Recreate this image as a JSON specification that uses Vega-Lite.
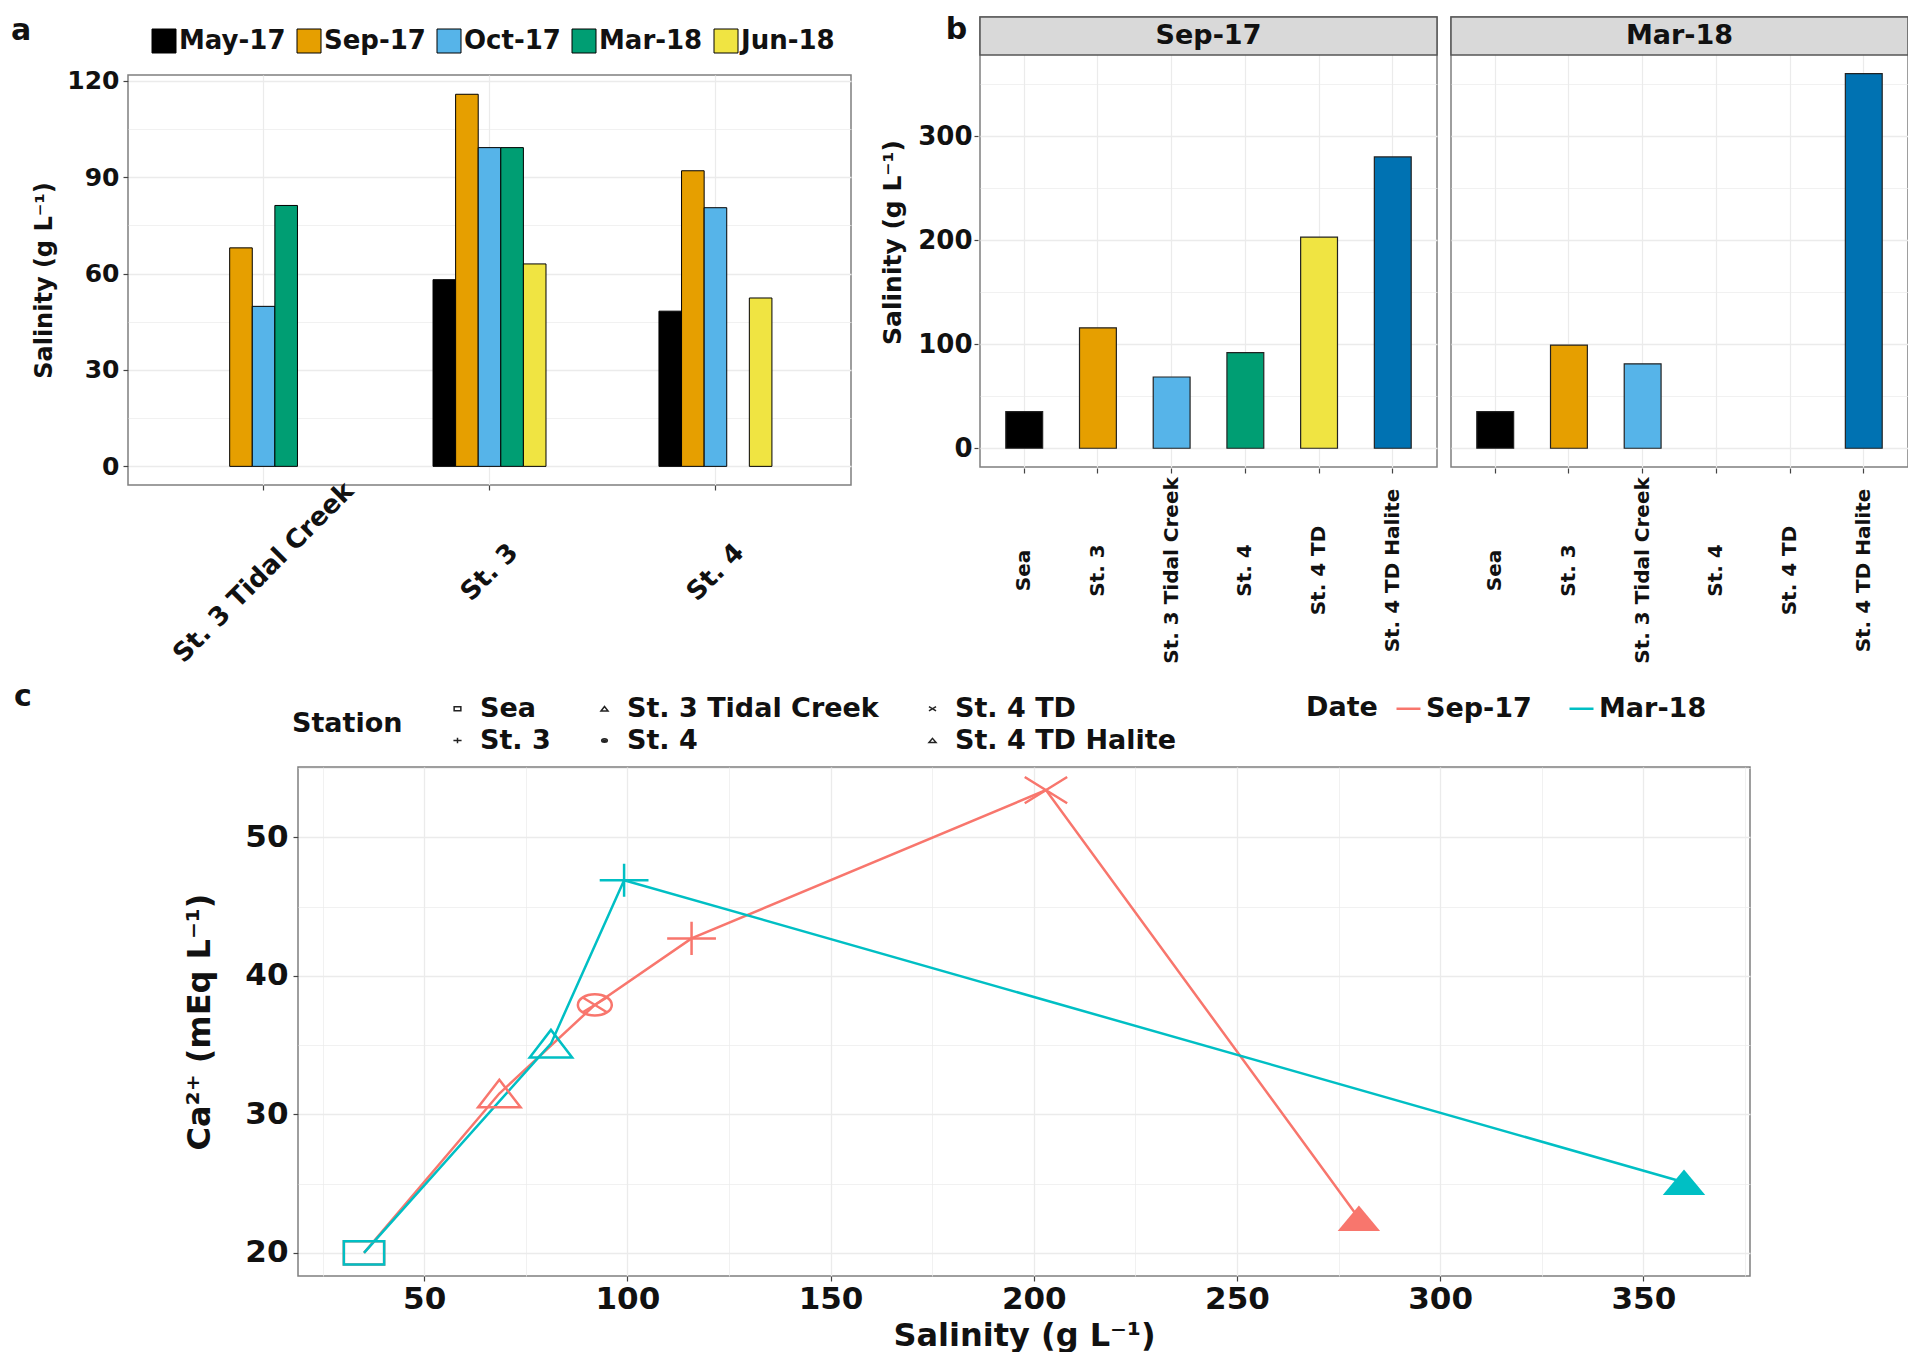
{
  "$schema": "https://vega.github.io/schema/vega-lite/v6.json",
  "background": "white",
  "padding": {"left": 11, "top": 14, "right": 0, "bottom": 0},
  "datasets": {
    "salA": [
      {"Station": "St. 3 Tidal Creek", "Date": "Sep-17", "Salinity": 68},
      {"Station": "St. 3 Tidal Creek", "Date": "Oct-17", "Salinity": 49.8},
      {"Station": "St. 3 Tidal Creek", "Date": "Mar-18", "Salinity": 81.2},
      {"Station": "St. 3", "Date": "May-17", "Salinity": 58.1},
      {"Station": "St. 3", "Date": "Sep-17", "Salinity": 115.8},
      {"Station": "St. 3", "Date": "Oct-17", "Salinity": 99.2},
      {"Station": "St. 3", "Date": "Mar-18", "Salinity": 99.2},
      {"Station": "St. 3", "Date": "Jun-18", "Salinity": 63},
      {"Station": "St. 4", "Date": "May-17", "Salinity": 48.3},
      {"Station": "St. 4", "Date": "Sep-17", "Salinity": 92},
      {"Station": "St. 4", "Date": "Oct-17", "Salinity": 80.5},
      {"Station": "St. 4", "Date": "Jun-18", "Salinity": 52.4}
    ],
    "salB": [
      {"Date": "Sep-17", "Station": "Sea", "Salinity": 35.2},
      {"Date": "Sep-17", "Station": "St. 3", "Salinity": 115.8},
      {"Date": "Sep-17", "Station": "St. 3 Tidal Creek", "Salinity": 68.5},
      {"Date": "Sep-17", "Station": "St. 4", "Salinity": 92},
      {"Date": "Sep-17", "Station": "St. 4 TD", "Salinity": 203},
      {"Date": "Sep-17", "Station": "St. 4 TD Halite", "Salinity": 280},
      {"Date": "Mar-18", "Station": "Sea", "Salinity": 35.2},
      {"Date": "Mar-18", "Station": "St. 3", "Salinity": 99.2},
      {"Date": "Mar-18", "Station": "St. 3 Tidal Creek", "Salinity": 81.2},
      {"Date": "Mar-18", "Station": "St. 4 TD Halite", "Salinity": 360}
    ],
    "caC": [
      {"Date": "Sep-17", "Station": "Sea", "Salinity": 35.2, "Ca": 20.0},
      {"Date": "Sep-17", "Station": "St. 3 Tidal Creek", "Salinity": 68.5, "Ca": 31.5},
      {"Date": "Sep-17", "Station": "St. 4", "Salinity": 92, "Ca": 37.9},
      {"Date": "Sep-17", "Station": "St. 3", "Salinity": 115.8, "Ca": 42.7},
      {"Date": "Sep-17", "Station": "St. 4 TD", "Salinity": 203, "Ca": 53.4},
      {"Date": "Sep-17", "Station": "St. 4 TD Halite", "Salinity": 280, "Ca": 22.5},
      {"Date": "Mar-18", "Station": "Sea", "Salinity": 35.2, "Ca": 20.0},
      {"Date": "Mar-18", "Station": "St. 3 Tidal Creek", "Salinity": 81.2, "Ca": 35.1},
      {"Date": "Mar-18", "Station": "St. 3", "Salinity": 99.2, "Ca": 46.9},
      {"Date": "Mar-18", "Station": "St. 4 TD Halite", "Salinity": 360, "Ca": 25.1}
    ]
  },
  "columns": 1,
  "spacing": 14,
  "resolve": {"scale": {"color": "independent", "shape": "independent"}, "legend": {"color": "independent", "shape": "independent"}},
  "config": {
    "font": "DejaVu Sans",
    "view": {"stroke": "#7f7f7f", "strokeWidth": 1.5},
    "axis": {"labelFont": "DejaVu Sans", "labelFontWeight": "bold", "labelColor": "#111", "titleFont": "DejaVu Sans", "titleFontWeight": "bold", "titleColor": "#111", "domain": false, "tickColor": "#444", "tickSize": 5, "tickWidth": 1.2, "gridColor": "#ebebeb", "labelLimit": 0},
    "legend": {"labelFont": "DejaVu Sans", "labelFontWeight": "bold", "titleFont": "DejaVu Sans", "titleFontWeight": "bold", "labelColor": "#111", "titleColor": "#111", "labelLimit": 0},
    "title": {"font": "DejaVu Sans", "fontWeight": "bold", "color": "#111"}
  },
  "concat": [
    {
      "columns": 2,
      "spacing": 28,
      "resolve": {"scale": {"color": "independent"}, "legend": {"color": "independent"}},
      "concat": [
        {
          "columns": 1,
          "spacing": 0,
          "title": {"text": "a", "anchor": "start", "frame": "bounds", "fontSize": 30, "dx": -21, "dy": 29, "offset": 0},
          "resolve": {"scale": {"color": "independent"}, "legend": {"color": "independent"}},
          "concat": [
            {
              "width": 723,
              "height": 51,
              "view": {"stroke": null},
              "data": {"name": "salA"},
              "mark": {"type": "square", "opacity": 0},
              "encoding": {
                "color": {"field": "Date", "type": "nominal",
                  "scale": {"domain": ["May-17", "Sep-17", "Oct-17", "Mar-18", "Jun-18"], "range": ["#000000", "#E69F00", "#56B4E9", "#009E73", "#F0E442"]},
                  "legend": {"orient": "none", "legendX": 23, "legendY": 11, "direction": "horizontal", "title": null, "symbolType": "square", "symbolSize": 576, "symbolStrokeColor": "black", "symbolStrokeWidth": 1, "symbolOpacity": 1, "labelFontSize": 26, "labelOffset": 2, "columnPadding": 9}}
              }
            },
            {
              "width": 723,
              "height": 410,
              "data": {"name": "salA"},
              "mark": {"type": "bar", "stroke": "black", "strokeWidth": 1},
              "encoding": {
                "x": {"field": "Station", "type": "nominal", "sort": ["St. 3 Tidal Creek", "St. 3", "St. 4"],
                  "scale": {"paddingInner": 0.5, "paddingOuter": 0.35},
                  "axis": {"title": null, "labelAngle": -45, "labelAlign": "center", "labelBaseline": "middle", "labelPadding": 82, "labelFontSize": 26, "grid": true, "bandPosition": 0.5, "gridWidth": 1.2}},
                "xOffset": {"field": "Date", "type": "nominal", "sort": ["May-17", "Sep-17", "Oct-17", "Mar-18", "Jun-18"],
                  "scale": {"domain": ["May-17", "Sep-17", "Oct-17", "Mar-18", "Jun-18"], "paddingInner": 0, "paddingOuter": 0}},
                "y": {"field": "Salinity", "type": "quantitative",
                  "scale": {"domain": [-5.8, 121.8], "nice": false, "zero": false},
                  "axis": {"title": "Salinity (g L⁻¹)", "titleFontSize": 24, "titlePadding": 10, "labelFontSize": 25, "labelPadding": 4,
                    "values": [0, 15, 30, 45, 60, 75, 90, 105, 120],
                    "labelExpr": "datum.value % 30 === 0 ? datum.label : ''",
                    "tickOpacity": {"condition": {"test": "datum.value % 30 === 0", "value": 1}, "value": 0},
                    "gridWidth": {"condition": {"test": "datum.value % 30 === 0", "value": 1.3}, "value": 0.7}}},
                "color": {"field": "Date", "type": "nominal",
                  "scale": {"domain": ["May-17", "Sep-17", "Oct-17", "Mar-18", "Jun-18"], "range": ["#000000", "#E69F00", "#56B4E9", "#009E73", "#F0E442"]},
                  "legend": null}
              }
            }
          ]
        },
        {
          "title": {"text": "b", "anchor": "start", "frame": "bounds", "fontSize": 30, "dx": 65, "dy": 29, "offset": 0},
          "data": {"name": "salB"},
          "facet": {"column": {"field": "Date", "type": "nominal", "sort": ["Sep-17", "Mar-18"], "header": {"title": null, "labels": false}}},
          "spacing": 10,
          "spec": {
            "width": 457,
            "height": 450,
            "layer": [
              {
                "mark": {"type": "bar", "stroke": "#222", "strokeWidth": 1.2},
                "encoding": {
                  "x": {"field": "Station", "type": "nominal",
                    "scale": {"domain": ["Sea", "St. 3", "St. 3 Tidal Creek", "St. 4", "St. 4 TD", "St. 4 TD Halite"], "paddingInner": 0.5, "paddingOuter": 0.35},
                    "axis": {"title": null, "labelAngle": -90, "labelAlign": "center", "labelBaseline": "middle", "labelPadding": 97, "labelFontSize": 20, "grid": true, "bandPosition": 0.5, "gridWidth": 1.2}},
                  "y": {"field": "Salinity", "type": "quantitative",
                    "scale": {"domain": [-18, 414.5], "nice": false, "zero": false},
                    "axis": {"title": "Salinity (g L⁻¹)", "titleFontSize": 25, "titlePadding": 12, "labelFontSize": 26, "labelPadding": 2, "tickSize": 4,
                      "values": [0, 50, 100, 150, 200, 250, 300, 350],
                      "labelExpr": "datum.value % 100 === 0 ? datum.label : ''",
                      "tickOpacity": {"condition": {"test": "datum.value % 100 === 0", "value": 1}, "value": 0},
                      "gridWidth": {"condition": {"test": "datum.value % 100 === 0", "value": 1.3}, "value": 0.7}}},
                  "color": {"field": "Station", "type": "nominal",
                    "scale": {"domain": ["Sea", "St. 3", "St. 3 Tidal Creek", "St. 4", "St. 4 TD", "St. 4 TD Halite"], "range": ["#000000", "#E69F00", "#56B4E9", "#009E73", "#F0E442", "#0072B2"]},
                    "legend": null}
                }
              },
              {
                "transform": [{"aggregate": [{"op": "count", "as": "n"}], "groupby": ["Date"]}],
                "mark": {"type": "rect", "fill": "#d9d9d9", "stroke": "#555", "strokeWidth": 1.5},
                "encoding": {"x": {"value": 0}, "x2": {"value": "width"}, "y": {"datum": 378}, "y2": {"datum": 414.5}}
              },
              {
                "transform": [{"aggregate": [{"op": "count", "as": "n"}], "groupby": ["Date"]}],
                "mark": {"type": "text", "fontSize": 27, "fontWeight": "bold", "font": "DejaVu Sans", "color": "#111", "baseline": "middle", "align": "center"},
                "encoding": {"y": {"datum": 396.25}, "text": {"field": "Date", "type": "nominal"}}
              }
            ]
          }
        }
      ]
    },
    {
      "columns": 2,
      "spacing": 10,
      "title": {"text": "c", "anchor": "start", "frame": "bounds", "fontSize": 30, "dx": -114, "dy": 18, "offset": 0},
      "resolve": {"scale": {"color": "independent", "shape": "independent"}, "legend": {"color": "independent", "shape": "independent"}},
      "concat": [
        {
          "width": 45,
          "height": 1,
          "view": {"stroke": null},
          "data": {"values": [{}]},
          "mark": {"type": "point", "opacity": 0}
        },
        {
          "width": 1452,
          "height": 509,
          "data": {"name": "caC"},
          "encoding": {
            "x": {"field": "Salinity", "type": "quantitative",
              "scale": {"domain": [18.96, 376.24], "nice": false, "zero": false},
              "axis": {"title": "Salinity (g L⁻¹)", "titleFontSize": 32, "titlePadding": 6, "labelFontSize": 31, "labelPadding": 3,
                "values": [25, 50, 75, 100, 125, 150, 175, 200, 225, 250, 275, 300, 325, 350, 375],
                "labelExpr": "datum.value % 50 === 0 ? datum.label : ''",
                "tickOpacity": {"condition": {"test": "datum.value % 50 === 0", "value": 1}, "value": 0},
                "gridWidth": {"condition": {"test": "datum.value % 50 === 0", "value": 1.3}, "value": 0.7}}},
            "y": {"field": "Ca", "type": "quantitative",
              "scale": {"domain": [18.33, 55.07], "nice": false, "zero": false},
              "axis": {"title": "Ca²⁺ (mEq L⁻¹)", "titleFontSize": 32, "titlePadding": 28, "labelFontSize": 31, "labelPadding": 5,
                "values": [20, 25, 30, 35, 40, 45, 50, 55],
                "labelExpr": "datum.value % 10 === 0 ? datum.label : ''",
                "tickOpacity": {"condition": {"test": "datum.value % 10 === 0", "value": 1}, "value": 0},
                "gridWidth": {"condition": {"test": "datum.value % 10 === 0", "value": 1.3}, "value": 0.7}}},
            "color": {"field": "Date", "type": "nominal",
              "scale": {"domain": ["Sep-17", "Mar-18"], "range": ["#F8766D", "#00BFC4"]},
              "legend": {"orient": "none", "legendX": 1008, "legendY": -72, "direction": "horizontal", "title": "Date", "titleOrient": "left", "titlePadding": 17, "titleFontSize": 27, "labelFontSize": 27, "symbolType": "stroke", "symbolSize": 576, "symbolStrokeWidth": 2.5, "columnPadding": 32, "labelOffset": 4}}
          },
          "layer": [
            {"mark": {"type": "line", "strokeWidth": 2.5}},
            {
              "transform": [{"filter": "datum.Station !== 'St. 4 TD Halite'"}],
              "mark": {"type": "point", "filled": false, "strokeWidth": 2.5, "size": 1800, "opacity": 1},
              "encoding": {
                "shape": {"field": "Station", "type": "nominal",
                  "scale": {"domain": ["Sea", "St. 3", "St. 3 Tidal Creek", "St. 4", "St. 4 TD", "St. 4 TD Halite"],
                    "range": ["M-0.95,-0.55H0.95V0.55H-0.95Z", "M-1.15,0H1.15M0,-0.78V0.78", "M0,-0.65L1,0.65H-1Z", "M-0.8,0A0.8,0.5,0,1,1,0.8,0A0.8,0.5,0,1,1,-0.8,0M-0.57,-0.35L0.57,0.35M-0.57,0.35L0.57,-0.35", "M-1,-0.62L1,0.62M-1,0.62L1,-0.62", "M0,-0.6L1,0.6H-1Z"]},
                  "legend": {"orient": "none", "legendX": -6, "legendY": -72, "columns": 3, "title": "Station", "titleOrient": "left", "titleAnchor": "middle", "titleBaseline": "middle", "titlePadding": 41, "titleFontSize": 27, "labelFontSize": 27, "symbolSize": 50, "symbolStrokeColor": "#222", "symbolStrokeWidth": 1.5, "rowPadding": 4, "columnPadding": 40, "labelOffset": 9}}
              }
            },
            {
              "transform": [{"filter": "datum.Station === 'St. 4 TD Halite'"}],
              "mark": {"type": "point", "filled": true, "size": 1800, "opacity": 1},
              "encoding": {
                "shape": {"field": "Station", "type": "nominal",
                  "scale": {"domain": ["Sea", "St. 3", "St. 3 Tidal Creek", "St. 4", "St. 4 TD", "St. 4 TD Halite"],
                    "range": ["M-0.95,-0.55H0.95V0.55H-0.95Z", "M-1.15,0H1.15M0,-0.78V0.78", "M0,-0.65L1,0.65H-1Z", "M-0.8,0A0.8,0.5,0,1,1,0.8,0A0.8,0.5,0,1,1,-0.8,0M-0.57,-0.35L0.57,0.35M-0.57,0.35L0.57,-0.35", "M-1,-0.62L1,0.62M-1,0.62L1,-0.62", "M0,-0.6L1,0.6H-1Z"]}}
              }
            }
          ]
        }
      ]
    }
  ]
}
